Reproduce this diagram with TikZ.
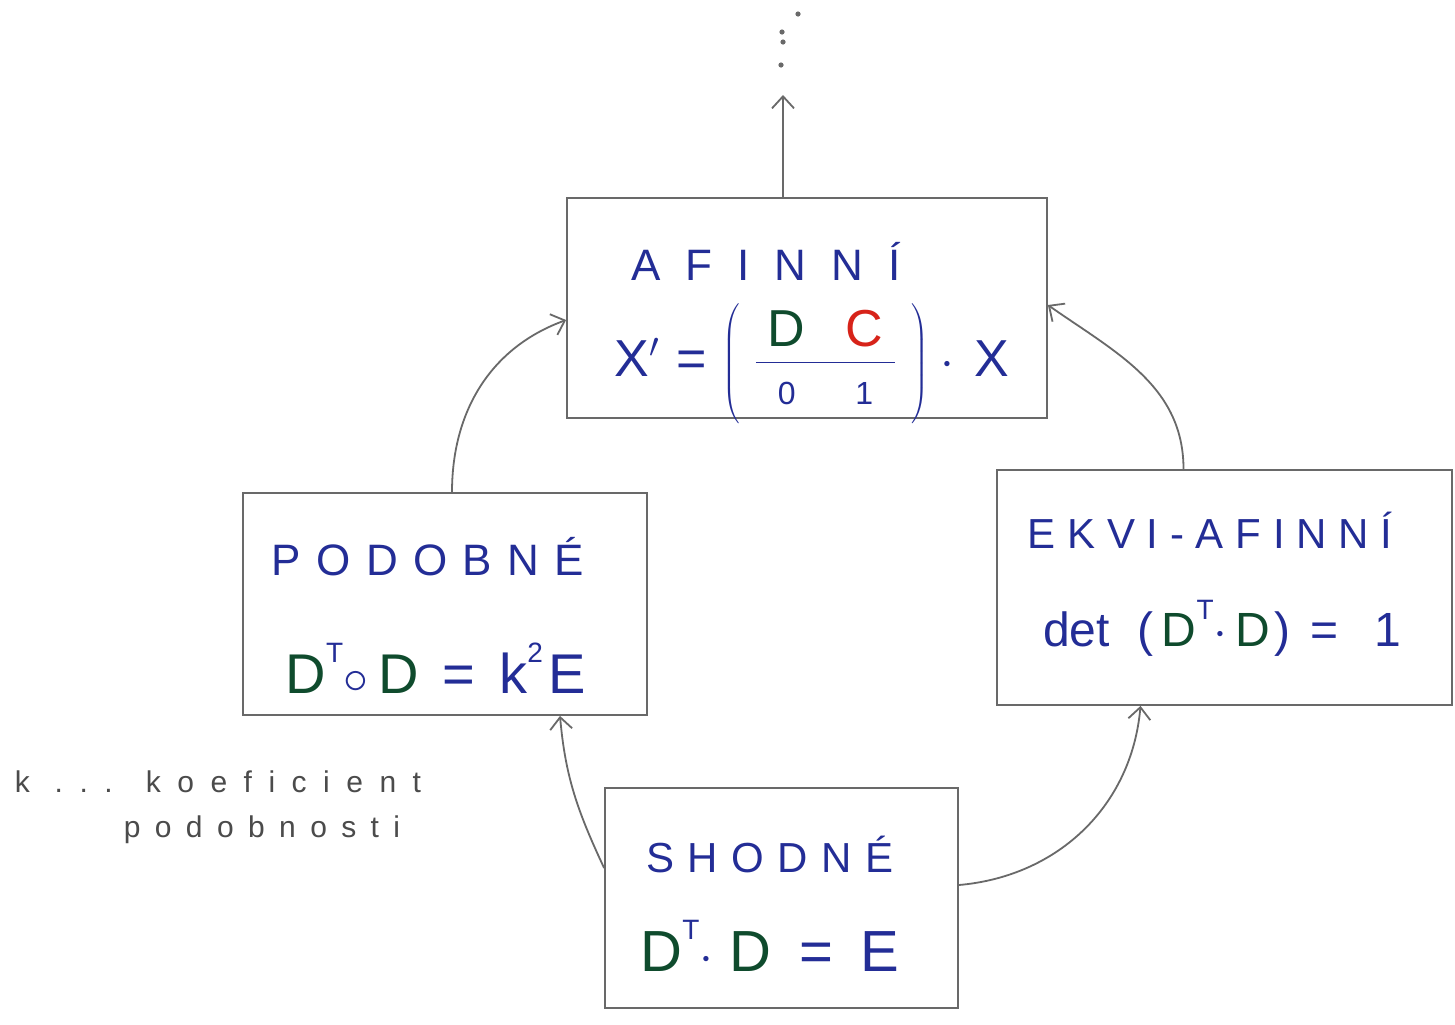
\documentclass[tikz,border=0pt]{standalone}
\usepackage{fontspec}
\setmainfont{Liberation Sans}
\usetikzlibrary{arrows.meta}
\definecolor{ink}{RGB}{35,45,150}
\definecolor{dgreen}{RGB}{15,75,45}
\definecolor{redc}{RGB}{215,35,25}
\definecolor{pencil}{RGB}{105,105,105}
\definecolor{notegray}{RGB}{75,75,75}
\newcommand{\Dg}{{\color{dgreen}D}}
\newcommand{\supT}{\raisebox{0.55em}{\fontsize{14}{16}\selectfont T}}
\newcommand{\supTwo}{\raisebox{0.55em}{\fontsize{14}{16}\selectfont 2}}
\begin{document}
\begin{tikzpicture}[x=0.5pt,y=-0.5pt,
  box/.style={draw=pencil,line width=0.9pt,rectangle,inner sep=0pt},
  title/.style={text=ink,inner sep=0pt,anchor=base},
  formula/.style={text=ink,inner sep=0pt,anchor=base},
  link/.style={draw=pencil,line width=0.9pt,-{Straight Barb[length=6pt,width=11pt]}},
  note/.style={text=notegray,inner sep=0pt,anchor=base},
  dot/.style={circle,fill=pencil,inner sep=0pt,minimum size=2.6pt}]
\useasboundingbox (0,0) rectangle (1455,1024);
\fill[white] (0,0) rectangle (1455,1024);

% boxes
\node[box,minimum width=240pt,minimum height=110pt] (A) at (807,308) {};
\node[box,minimum width=202pt,minimum height=111pt] (P) at (445,604) {};
\node[box,minimum width=227.5pt,minimum height=117.5pt] (E) at (1224.5,587.5) {};
\node[box,minimum width=176.5pt,minimum height=110pt] (S) at (781.5,898) {};

% texts
\node[title,font=\fontsize{22}{24}\selectfont\addfontfeature{LetterSpace=57}] (At) at (766,280) {AFINNÍ};
\node[formula,font=\fontsize{26}{30}\selectfont] (Af) at (812,376)
  {X$'$\hspace{8pt}=\hspace{8pt}$\left(\hspace{8pt}\mbox{\begin{tabular}{c@{\hspace{20pt}}c}\Dg & {\color{redc}C}\\[-1pt]\hline\rule{0pt}{18pt}\fontsize{16}{18}\selectfont 0 & \fontsize{16}{18}\selectfont 1\end{tabular}}\hspace{8pt}\right)$\hspace{6pt}$\cdot$\hspace{10pt}X};

\node[title,font=\fontsize{22}{24}\selectfont\addfontfeature{LetterSpace=35}] (Pt) at (428,575) {PODOBNÉ};
\node[formula,font=\fontsize{28}{32}\selectfont] (Pf) at (436,693)
  {\Dg\supT$\circ$\hspace{5pt}\Dg\hspace{12pt}=\hspace{12pt}k\supTwo\hspace{3pt}E};

\node[title,font=\fontsize{21}{24}\selectfont\addfontfeature{LetterSpace=28}] (Et) at (1210,548) {EKVI-AFINNÍ};
\node[formula,font=\fontsize{24}{28}\selectfont] (Ef) at (1222,646)
  {det\hspace{14pt}(\hspace{4pt}\Dg\supT$\cdot$\hspace{4pt}\Dg\hspace{2pt})\hspace{10pt}=\hspace{18pt}1};

\node[title,font=\fontsize{21}{24}\selectfont\addfontfeature{LetterSpace=32}] (St) at (770,872) {SHODNÉ};
\node[formula,font=\fontsize{29}{32}\selectfont] (Sf) at (770,971)
  {\Dg\supT$\cdot$\hspace{8pt}\Dg\hspace{14pt}=\hspace{14pt}E};

% note
\node[note,font=\fontsize{15}{17}\selectfont\addfontfeature{LetterSpace=55}] (n1) at (218,792) {k ... koeficient};
\node[note,font=\fontsize{15}{17}\selectfont\addfontfeature{LetterSpace=48}] (n2) at (262,837) {podobnosti};

% top arrow and dots
\coordinate (up) at (783,95);
\draw[link] ([xshift=-12pt]A.north) -- (up);
\node[dot] (d1) at (781,65) {};
\node[dot] (d2) at (783,42) {};
\node[dot] (d3) at (782,32) {};
\node[dot] (d4) at (798,14) {};

% connectors
\draw[link] ([xshift=3.5pt]P.north) to[out=90,in=200] ([yshift=-6pt]A.west);
\draw[link] ([xshift=-20.5pt]E.north) to[out=90,in=-35] ([yshift=1.5pt]A.east);
\draw[link] ([yshift=15pt]S.west) to[out=115,in=-85] ([xshift=57.5pt]P.south);
\draw[link] ([yshift=6.5pt]S.east) to[out=5,in=-95] ([xshift=-42pt]E.south);
\end{tikzpicture}
\end{document}
